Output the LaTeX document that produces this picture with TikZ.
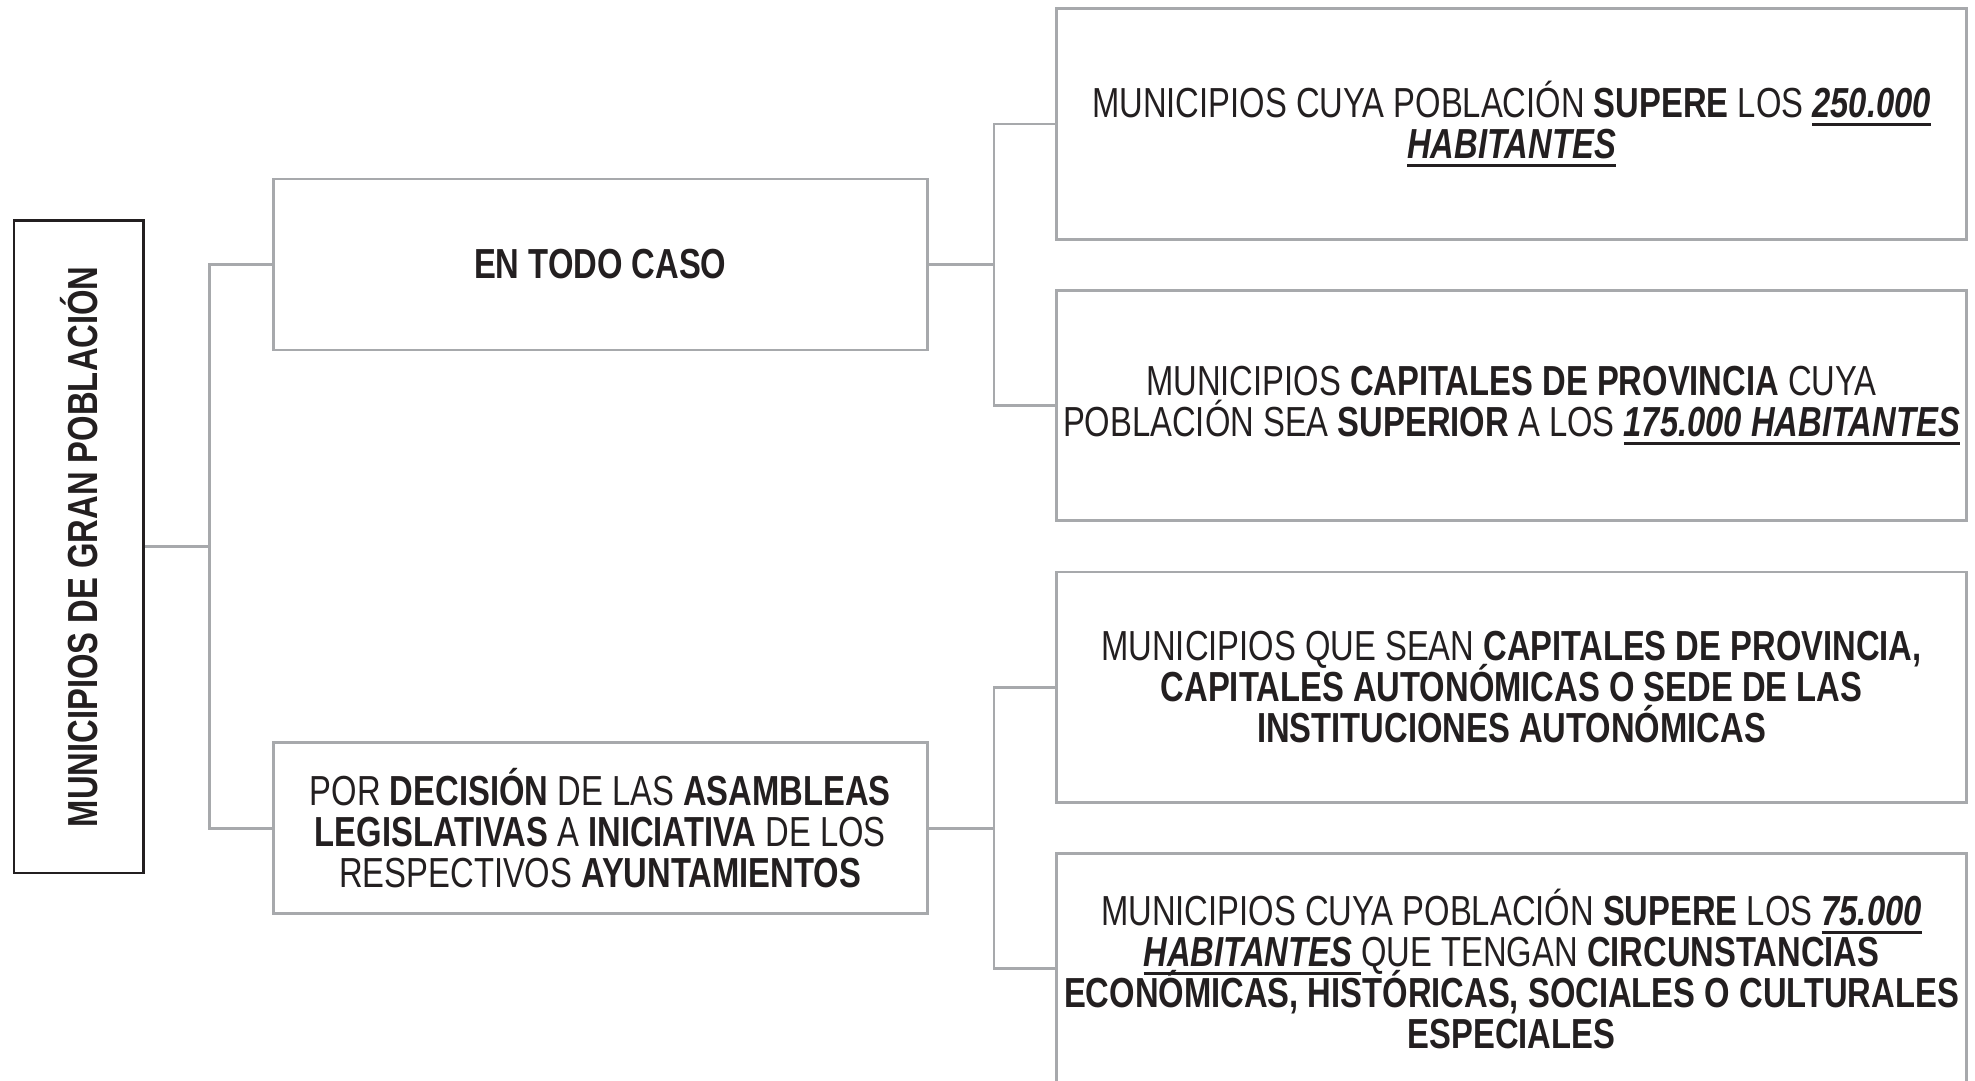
\documentclass[tikz,border=0pt]{standalone}
\usepackage{fontspec}
\setmainfont{Liberation Sans}[FakeStretch=0.78]
\definecolor{boxgray}{HTML}{A7A9AC}
\definecolor{ink}{HTML}{231F20}
\newcommand{\bi}[1]{\textbf{\textit{#1}}}
\newcommand{\myul}[1]{\setbox0\hbox{#1}\rlap{\vrule height -5.5pt depth 9pt width \wd0}\box0}
\newcommand{\tightlines}{\lineskiplimit=-100pt\relax}
\newcommand{\boxfont}{\fontsize{42}{41}\selectfont\tightlines}
\begin{document}
\begin{tikzpicture}[x=1pt,y=1pt,
  every node/.style={text=ink,font=\boxfont},
  mainbox/.style={draw=ink,line width=2.6pt,inner sep=0pt,minimum width=129.7pt,minimum height=652.5pt},
  midbox/.style={draw=boxgray,line width=2.8pt,inner sep=0pt,align=center,minimum width=653.8pt,minimum height=171pt},
  leafbox/.style={draw=boxgray,line width=2.8pt,inner sep=0pt,align=center,minimum width=909.4pt,minimum height=230.5pt},
  link/.style={draw=boxgray,line width=2.8pt}]
\useasboundingbox (0,0) rectangle (1975,-1081);
\fill[white] (0,0) rectangle (1975,-1081);

\node[mainbox] (main) at (78.8,-546.7) {};
\node[rotate=90,font=\boxfont\bfseries] (maintxt) at (main.center) {MUNICIPIOS DE GRAN POBLACIÓN};

\node[midbox] (A) at (600.2,-264.5) {\textbf{EN TODO CASO}};
\node[midbox] (B) at (600.2,-828.2) {POR \textbf{DECISIÓN} DE LAS \textbf{ASAMBLEAS}\\ \textbf{LEGISLATIVAS} A \textbf{INICIATIVA} DE LOS\\ RESPECTIVOS \textbf{AYUNTAMIENTOS}};

\node[leafbox] (C1) at (1511.5,-124) {MUNICIPIOS CUYA POBLACIÓN \textbf{SUPERE} LOS \myul{\bi{250.000}}\\ \myul{\bi{HABITANTES}}};
\node[leafbox] (C2) at (1511.5,-405.6) {MUNICIPIOS \textbf{CAPITALES DE PROVINCIA} CUYA\\ POBLACIÓN SEA \textbf{SUPERIOR} A LOS \myul{\bi{175.000 HABITANTES}}};
\node[leafbox] (D1) at (1511.5,-687.2) {MUNICIPIOS QUE SEAN \textbf{CAPITALES DE PROVINCIA,}\\ \textbf{CAPITALES AUTONÓMICAS O SEDE DE LAS}\\ \textbf{INSTITUCIONES AUTONÓMICAS}};
\node[leafbox] (D2) at (1511.5,-968.8) {MUNICIPIOS CUYA POBLACIÓN \textbf{SUPERE} LOS \myul{\bi{75.000}}\\ \myul{\bi{HABITANTES}\ }QUE TENGAN \textbf{CIRCUNSTANCIAS}\\ \textbf{ECONÓMICAS, HISTÓRICAS, SOCIALES O CULTURALES}\\ \textbf{ESPECIALES}};

\draw[link] (main.east) -- ++(64.2,0) coordinate (j1);
\draw[link] (A.west) -| (j1) |- (B.west);
\draw[link] (A.east) -- ++(65.5,0) coordinate (j2);
\draw[link] (C1.west) -| (j2) |- (C2.west);
\draw[link] (B.east) -- ++(65.5,0) coordinate (j3);
\draw[link] (D1.west) -| (j3) |- (D2.west);
\end{tikzpicture}
\end{document}
